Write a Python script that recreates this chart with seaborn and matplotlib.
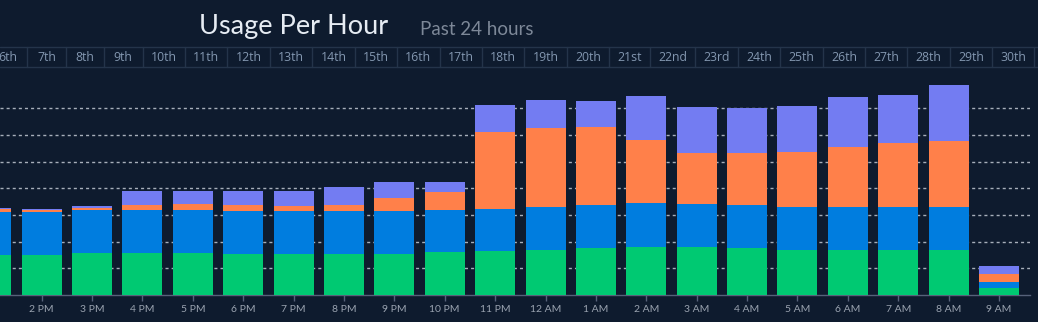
import matplotlib
matplotlib.use("Agg")
import matplotlib.pyplot as plt
import numpy as np
import pandas as pd
import seaborn as sns
from matplotlib.lines import Line2D

# Hourly usage, stacked from bottom (green) to top (purple)
hours = ["1 PM", "2 PM", "3 PM", "4 PM", "5 PM", "6 PM", "7 PM", "8 PM", "9 PM",
         "10 PM", "11 PM", "12 AM", "1 AM", "2 AM", "3 AM", "4 AM", "5 AM", "6 AM",
         "7 AM", "8 AM", "9 AM"]
green = [15.0, 15.0, 15.7, 15.7, 15.7, 15.4, 15.4, 15.4, 15.4, 16.1, 16.5,
         16.9, 17.6, 18.0, 18.0, 17.6, 16.9, 16.9, 16.9, 16.9, 2.6]
blue = [16.1, 16.1, 16.1, 16.1, 16.1, 16.1, 16.1, 16.1, 16.1, 15.7, 15.7,
        16.1, 16.1, 16.5, 16.1, 16.1, 16.1, 16.1, 16.1, 16.1, 2.2]
orange = [1.1, 0.8, 0.8, 1.9, 2.2, 2.2, 1.9, 2.2, 4.9, 6.7, 28.9,
          29.6, 29.2, 23.6, 19.1, 19.5, 20.6, 22.5, 24.0, 24.7, 3.0]
purple = [0.4, 0.4, 0.8, 5.2, 4.9, 5.2, 5.6, 6.7, 6.0, 3.7, 10.1,
          10.5, 9.7, 16.5, 17.2, 16.9, 17.2, 18.7, 18.0, 21.0, 3.0]
grid_levels = [10, 20, 30, 40, 50, 60, 70]

days = ["6th", "7th", "8th", "9th", "10th", "11th", "12th", "13th", "14th", "15th",
        "16th", "17th", "18th", "19th", "20th", "21st", "22nd", "23rd", "24th",
        "25th", "26th", "27th", "28th", "29th", "30th"]

title = "Usage Per Hour"
subtitle = "Past 24 hours"

BG = "#0e1b2e"
COLORS = {"green": "#00c972", "blue": "#007ddf", "orange": "#ff804a", "purple": "#737cf2"}

sns.set_theme(style="dark")
plt.rcParams["font.family"] = ["Lato", "DejaVu Sans"]

W, H = 1038, 322
fig = plt.figure(figsize=(W / 100, H / 100), dpi=100, facecolor=BG)


def fx(px):
    return px / W


def fy(py):
    return 1 - py / H


ax = fig.add_axes([0, fy(295), fx(1029.7), (295 - 70) / H])
ax.set_facecolor(BG)

df = pd.DataFrame({"hour": hours, "green": green, "blue": blue,
                   "orange": orange, "purple": purple})
order = ["green", "blue", "orange", "purple"]
cum = df[order].cumsum(axis=1)
for name in order:
    df["top_" + name] = cum[name]

# Draw tallest cumulative layer first so lower layers sit on top of it
for name in reversed(order):
    sns.barplot(data=df, x="hour", y="top_" + name, color=COLORS[name],
                saturation=1, width=0.794, linewidth=0, errorbar=None,
                order=hours, ax=ax, zorder=3)

ax.set_xlim(0.173, 20.61)
ax.set_ylim(0, 84.375)
ax.set_yticks(grid_levels)
ax.yaxis.grid(True, color="#a7afba", linestyle=(0, (2.2, 2.2)), linewidth=1.0, zorder=1)
ax.xaxis.grid(False)
ax.set_axisbelow(True)
ax.set_xlabel("")
ax.set_ylabel("")
ax.tick_params(axis="y", length=0, labelleft=False)
ax.tick_params(axis="x", length=4, width=1, color="#56627a", labelcolor="#9aa3b0",
               labelsize=7.5, pad=3, bottom=True)
for s in ["top", "left", "right"]:
    ax.spines[s].set_visible(False)
ax.spines["bottom"].set_color("#56627a")
ax.spines["bottom"].set_linewidth(1)

# Header
fig.text(fx(199), fy(34.3), title, fontsize=19.5, color="#e6ecf3",
         family=["Lato", "DejaVu Sans"], va="baseline", ha="left")
fig.text(fx(420), fy(35), subtitle, fontsize=13.5, color="#7d8898",
         family=["Lato", "DejaVu Sans"], va="baseline", ha="left")

# Day strip
strip_top, strip_bot = 47, 67
line_color = "#24344a"
fig.add_artist(Line2D([0, 1], [fy(strip_top), fy(strip_top)], transform=fig.transFigure,
                      color=line_color, linewidth=1))
fig.add_artist(Line2D([0, 1], [fy(strip_bot), fy(strip_bot)], transform=fig.transFigure,
                      color=line_color, linewidth=1))

renderer = fig.canvas.get_renderer()
labels = []
for d in days:
    t = fig.text(0, fy(61.3), d, fontsize=8.8, color="#8397b0",
                 family=["Open Sans", "DejaVu Sans"], va="baseline", ha="center")
    labels.append(t)
widths = [t.get_window_extent(renderer).width for t in labels]
pad, min_cell = 16.4, 38.4
cells = [max(w + pad, min_cell) for w in widths]
left = 27.3 - cells[0]
for t, cw in zip(labels, cells):
    t.set_x(fx(left + cw / 2))
    right = left + cw
    fig.add_artist(Line2D([fx(right), fx(right)], [fy(strip_top), fy(strip_bot)],
                          transform=fig.transFigure, color=line_color, linewidth=1))
    left = right

fig.savefig("out.png", dpi=100, facecolor=BG)
